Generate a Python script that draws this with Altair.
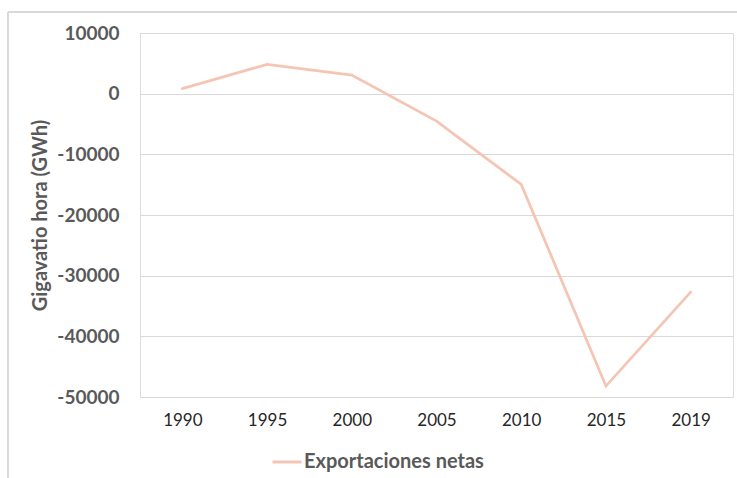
import altair as alt
import pandas as pd

years = ["1990", "1995", "2000", "2005", "2010", "2015", "2019"]
values = [820, 4830, 3070, -4520, -14950, -48200, -32700]
series = ["Exportaciones netas"] * len(years)

df = pd.DataFrame({"Año": years, "GWh": values, "Serie": series})

FONT = "Lato"
GRAY = "#595959"
LINE = "#F5C5B4"

line = alt.Chart(df).mark_line(strokeWidth=2.75, strokeCap="round", strokeJoin="miter").encode(
    x=alt.X("Año:O", sort=years, title=None,
            scale=alt.Scale(paddingInner=0, paddingOuter=0.5),
            axis=alt.Axis(labelAngle=0, domain=False, ticks=False, labelPadding=15,
                          labelFont=FONT, labelFontSize=17, labelColor="#262626",
                          labelFontWeight="normal")),
    y=alt.Y("GWh:Q", title="Gigavatio hora (GWh)",
            scale=alt.Scale(domain=[-50000, 10000], nice=False),
            axis=alt.Axis(values=[10000, 0, -10000, -20000, -30000, -40000, -50000],
                          labelExpr="replace(format(datum.value, 'd'), '\u2212', '-')",
                          domain=False, ticks=False, labelPadding=21,
                          labelFont=FONT, labelFontSize=19, labelFontWeight="bold",
                          labelColor=GRAY, gridColor="#D9D9D9", gridWidth=1,
                          titleFont=FONT, titleFontSize=20, titleFontWeight="bold",
                          titleColor=GRAY, titleAngle=-90, titleX=-100, titleY=182,
                          titleAlign="center", titleBaseline="middle")),
    color=alt.Color("Serie:N", scale=alt.Scale(range=[LINE]),
                    legend=alt.Legend(title=None, orient="none", legendX=131, legendY=413,
                                      symbolType="stroke", symbolSize=841,
                                      symbolStrokeWidth=3, labelFont=FONT,
                                      labelFontSize=20, labelFontWeight="bold",
                                      labelColor=GRAY, labelOffset=1, labelLimit=0)),
)

border = alt.Chart(df).mark_rect(fill=None, stroke="#D9D9D9", strokeWidth=1).encode(
    x=alt.value(-132), x2=alt.value(700), y=alt.value(-21), y2=alt.value(500)
)

chart = alt.layer(border, line).properties(
    width=593, height=364,
    autosize=alt.AutoSizeParams(type="none"),
    padding={"left": 140, "top": 33, "right": 4, "bottom": 81},
).configure_view(stroke=None).configure(background="white")

chart.save("out.html", embed_options={"renderer": "svg", "actions": False})
